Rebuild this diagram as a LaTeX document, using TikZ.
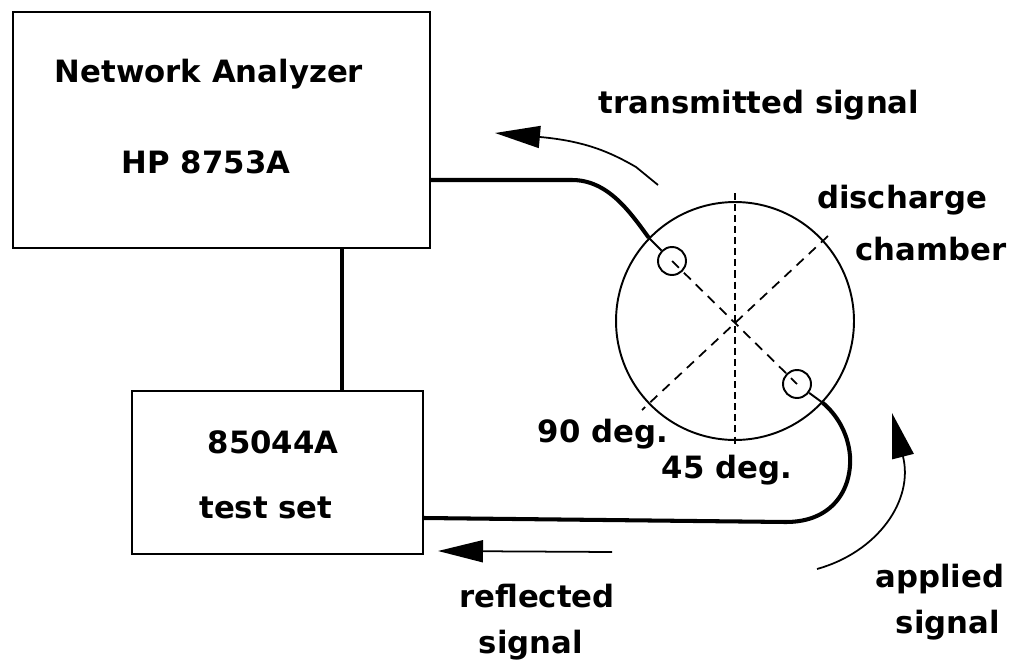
\documentclass[tikz,border=0pt]{standalone}
\usepackage{fontspec}
\setmainfont{DejaVu Sans}
\usetikzlibrary{arrows.meta}
\begin{document}
\begin{tikzpicture}[x=0.02cm, y=-0.02cm, font=\bfseries\fontsize{17.5}{20}\selectfont,
		box/.style={draw, line width=1.1pt, inner sep=0pt},
		lbl/.style={anchor=base, inner sep=0pt},
		cable/.style={line width=2.3pt},
		port/.style={draw, circle, line width=1.1pt, minimum size=0.56cm, inner sep=0pt},
		sig/.style={line width=1pt, -{Triangle[length=0.9cm, width=0.44cm]}}]
	\useasboundingbox (0,0) rectangle (1011,666);
	\node[box, minimum width=8.34cm, minimum height=4.72cm] (na) at (221.5,130) {};
	\node[box, minimum width=5.82cm, minimum height=3.26cm] (ts) at (277.5,472.5) {};
	\node[circle, draw, line width=1.1pt, minimum size=4.76cm, inner sep=0pt] (ch) at (735,321) {};
	\node[port] (p1) at (672,261) {}; \node[port] (p2) at (797,384) {};
	\coordinate (tA) at (658,185); \coordinate (tB) at (495,133);
	\coordinate (rA) at (612,552); \coordinate (rB) at (438,551);
	\coordinate (aA) at (817,569); \coordinate (aB) at (892,413);
	\draw[line width=1pt, dash pattern=on 4pt off 2.3pt] (ch.center) ++(0,-128) -- ++(0,254);
	\draw[line width=1pt, dash pattern=on 5.5pt off 4pt] (ch.center) ++(93,-85) -- ++(-186,174);
	\draw[line width=1pt, dash pattern=on 5.5pt off 4pt] (p1.center) -- (p2.center);
	\draw[cable] (na.south -| 342,0) -- (ts.north -| 342,0);
	\draw[cable] (na.east |- 0,180) -- (572,180) .. controls (608,180) and (630,212) .. (ch.136);
	\draw[line width=1.1pt] (ch.136) -- (p1);
	\draw[cable] (ts.east |- 0,518) -- (786,522) .. controls (832,522) and (852,490) .. (850,456) .. controls (848,432) and (836,414) .. (ch.-43);
	\draw[line width=1.1pt] (ch.-43) -- (p2);
	\draw[sig] (tA) -- (636,167) .. controls (610,152) and (585,141) .. (tB);
	\draw[sig] (rA) -- (rB);
	\draw[sig] (aA) .. controls (878,552) and (914,500) .. (aB);
	\node[lbl] (na1) at (209,82) {Network Analyzer};
	\node[lbl] (na2) at (206,173) {HP 8753A};
	\node[lbl] (ts1) at (273,453) {85044A};
	\node[lbl] (ts2) at (266,518) {test set};
	\node[lbl] (tr) at (759,113) {transmitted signal};
	\node[lbl] (dc1) at (902,208) {discharge}; \node[lbl] (dc2) at (931,260) {chamber};
	\node[lbl] (d90) at (603,442) {90 deg.}; \node[lbl] (d45) at (727,478) {45 deg.};
	\node[lbl] (rf1) at (537,607) {reflected}; \node[lbl] (rf2) at (531,653) {signal};
	\node[lbl] (ap1) at (940,587) {applied}; \node[lbl] (ap2) at (948,633) {signal};
\end{tikzpicture}
\end{document}
